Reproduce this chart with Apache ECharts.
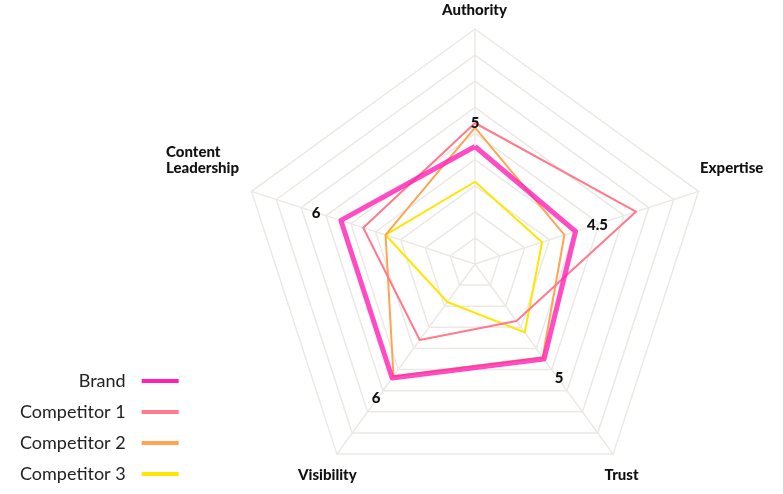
<!DOCTYPE html>
<html>
<head>
<meta charset="utf-8">
<script src="https://cdn.jsdelivr.net/npm/echarts@6/dist/echarts.min.js"></script>
<style>
html,body{margin:0;padding:0;background:#fff;}
#chart{width:783px;height:494px;}
</style>
</head>
<body>
<div id="chart"></div>
<script>
// Indicator order as ECharts lays them out (counter-clockwise from top)
const indicators = ['Authority', 'Content Leadership', 'Visibility', 'Trust', 'Expertise'];
const indicatorMax = 10;
const seriesNames = ['Brand', 'Competitor 1', 'Competitor 2', 'Competitor 3'];
const brand = [5, 6, 6, 5, 4.5];
const competitor1 = [6, 5, 4, 3, 7.2];
const competitor2 = [5.8, 4, 5.9, 4.9, 4];
const competitor3 = [3.5, 4, 2, 3.6, 3];
const colors = ['#ff1fb4', '#ff7a8c', '#ffa552', '#ffe600'];

const chart = echarts.init(document.getElementById('chart'), null, {renderer: 'canvas'});

// value label placement per indicator
const valueLabelCfg = [
  {position: 'top', distance: 15, offset: [0, 0]},
  {position: 'left', distance: 20, offset: [0, -7]},
  {position: 'bottom', distance: 12, offset: [-16, 0]},
  {position: 'bottom', distance: 11, offset: [15, 0]},
  {position: 'right', distance: 11, offset: [0, -6]}
];
// indicator name placement per indicator (relative to outer vertex)
const nameLabelCfg = [
  {position: [0, -10], align: 'center', verticalAlign: 'bottom'},
  {position: [-85, -15], align: 'left', verticalAlign: 'bottom'},
  {position: [-9, 22], align: 'center', verticalAlign: 'middle'},
  {position: [9, 22], align: 'center', verticalAlign: 'middle'},
  {position: [2, -15], align: 'left', verticalAlign: 'bottom'}
];

function hiddenLabelSeries(vals, k, labelOpt, textFn) {
  return {
    type: 'radar',
    name: 'lbl',
    silent: true,
    symbol: 'circle',
    symbolSize: 1,
    z: 10,
    itemStyle: {color: 'rgba(0,0,0,0)'},
    lineStyle: {width: 0, opacity: 0},
    data: [{
      value: vals,
      label: Object.assign({
        show: true,
        color: '#111',
        fontFamily: 'Lato',
        fontWeight: 900,
        fontSize: 15,
        lineHeight: 16,
        formatter: function (p) {
          let val = p.value;
          if (Array.isArray(val)) {
            val = (p.dimensionIndex != null) ? val[p.dimensionIndex] : 0;
          }
          return val === 0 ? '' : textFn(val);
        }
      }, labelOpt)
    }]
  };
}

const valueLabelSeries = brand.map((v, k) =>
  hiddenLabelSeries(brand.map((b, i) => (i === k ? b : 0)), k, valueLabelCfg[k], val => String(val))
);

const nameLabelSeries = indicators.map((n, k) =>
  hiddenLabelSeries(indicators.map((_, i) => (i === k ? indicatorMax : 0)), k, nameLabelCfg[k],
    () => n.replace(' ', '\n'))
);

const mainData = [brand, competitor1, competitor2, competitor3];

const mainSeries = mainData.map((vals, i) => ({
  type: 'radar',
  name: seriesNames[i],
  symbol: 'none',
  z: i === 0 ? 5 : 4 - i,
  itemStyle: {color: colors[i]},
  lineStyle: {color: colors[i], width: i === 0 ? 5 : 2, opacity: i === 0 ? 0.8 : 1},
  data: [{value: vals, name: seriesNames[i]}]
}));

const option = {
  animation: false,
  color: colors,
  legend: {
    data: seriesNames,
    orient: 'vertical',
    left: 20,
    top: 371,
    padding: 0,
    align: 'right',
    icon: 'rect',
    itemWidth: 37,
    itemHeight: 4,
    itemGap: 11,
    textStyle: {
      fontFamily: 'Lato',
      fontSize: 18,
      color: '#222',
      lineHeight: 20,
      padding: [0, 11, 0, 0]
    }
  },
  radar: {
    center: [475, 264],
    radius: 235,
    startAngle: 90,
    splitNumber: 9,
    shape: 'polygon',
    indicator: indicators.map(n => ({name: n, min: 0, max: indicatorMax})),
    axisName: {show: false},
    splitLine: {lineStyle: {color: '#ece9e4', width: 1.5}},
    axisLine: {lineStyle: {color: '#ece9e4', width: 1.5}},
    splitArea: {show: false},
    axisTick: {show: false},
    axisLabel: {show: false}
  },
  series: mainSeries.concat(valueLabelSeries, nameLabelSeries)
};

chart.setOption(option);
</script>
</body>
</html>
